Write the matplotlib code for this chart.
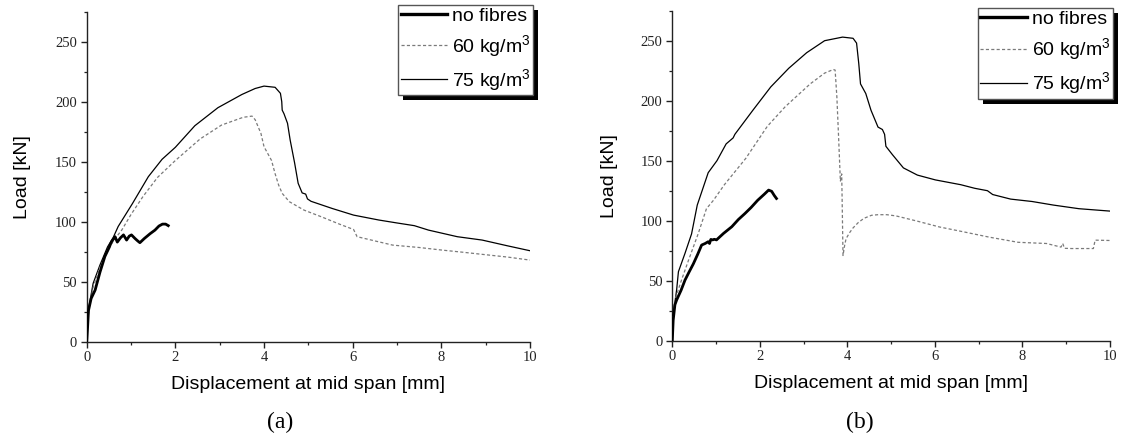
import matplotlib
matplotlib.use('Agg')
import matplotlib.pyplot as plt
from matplotlib.lines import Line2D
from matplotlib.patches import Rectangle
from matplotlib.ticker import MultipleLocator

plt.rcParams['mathtext.default'] = 'regular'

# (a) displacement [mm] / load [kN]
a_nf_x = [0, 0.02, 0.04, 0.1, 0.19, 0.3, 0.41, 0.5, 0.56, 0.64, 0.69, 0.76, 0.83, 0.9, 0.96, 1.01, 1.09, 1.15, 1.2, 1.3,
          1.43, 1.54, 1.63, 1.71, 1.78, 1.84]
a_nf_y = [0, 12, 26, 36, 43, 58, 71, 78, 83.3, 87.5, 83, 86.5, 89, 84.7, 88, 89, 86, 84, 82.5, 86,
          90, 93, 96.4, 98, 98, 96.7]

a_60_x = [0, 0.02, 0.05, 0.15, 0.3, 0.45, 0.6, 0.79, 1.0, 1.27, 1.6, 2.0, 2.56, 3.04, 3.53, 3.73, 3.8, 3.93, 4.0, 4.17,
          4.25, 4.33, 4.41, 4.57, 4.9, 5.3, 5.7, 6.02, 6.1, 6.5, 6.9, 7.5, 8.0, 8.5, 8.92, 9.5, 10.0]
a_60_y = [0, 15, 27, 46, 62, 74, 84, 93, 106, 121, 137, 151, 169, 180.5, 187, 188, 185, 173.6, 162.5, 151,
          140, 130.5, 123.6, 116.7, 109.7, 104, 98, 93.5, 87.5, 84, 80.5, 78.5, 76.4, 74.5, 72.8, 70.5, 68]

a_75_x = [0, 0.02, 0.05, 0.145, 0.3, 0.47, 0.6, 0.71, 1.03, 1.39, 1.7, 2.0, 2.44, 2.96, 3.5, 3.8, 4.0, 4.25, 4.37, 4.4,
          4.41, 4.45, 4.53, 4.59, 4.69, 4.77, 4.86, 4.94, 4.98, 5.06, 5.54, 6.02, 6.59, 6.99, 7.39, 7.71, 8.36,
          8.92, 9.48, 10.0]
a_75_y = [0, 15, 29, 48.6, 64, 79, 87, 96, 115, 137.5, 152, 162, 180, 195, 206, 211, 213, 212, 207, 200,
          193, 190, 182, 168, 149, 132, 124, 123, 119, 117, 111, 105.5, 101.4, 99, 96.7, 93, 87.5,
          84.7, 80, 75.8]

# (b)
b_nf_x = [0, 0.02, 0.06, 0.1, 0.2, 0.29, 0.38, 0.48, 0.58, 0.67, 0.75, 0.82, 0.85, 0.88, 0.92, 0.96, 1.01, 1.17, 1.36,
          1.51, 1.66, 1.8, 1.95, 2.1, 2.2, 2.27, 2.33, 2.38]
b_nf_y = [0, 17, 30, 34, 42, 50.5, 57, 64, 72, 79.7, 81, 82.5, 81, 84.4, 84, 84.5, 84, 89.4, 95,
          101, 106, 111, 117, 122, 125.5, 124.5, 121, 118.5]

b_60_x = [0, 0.02, 0.06, 0.21, 0.37, 0.59, 0.78, 0.94, 1.19, 1.68, 2.17, 2.58, 3.15, 3.48, 3.68, 3.72, 3.76, 3.8, 3.84,
          3.87, 3.88, 3.9, 3.94, 3.97, 4.05, 4.13, 4.25, 4.38, 4.55, 4.7, 4.9, 5.11, 5.6, 6.1, 6.67, 7.24,
          7.9, 8.55, 8.88, 8.92, 8.96, 9.12, 9.4, 9.62, 9.66, 10.0]
b_60_y = [0, 20, 34, 50.5, 67, 89, 110, 117, 130, 152, 178.6, 195, 214, 223, 226, 225.5, 203, 169, 133,
          139, 118, 71, 80, 85, 90, 94, 98.5, 102, 104.5, 105, 105, 104, 99.6, 94.8, 90.6, 86.3,
          82, 81, 78, 81, 77, 76.8, 76.8, 76.8, 83.8, 83.5]

b_75_x = [0, 0.02, 0.06, 0.1, 0.14, 0.29, 0.44, 0.57, 0.82, 1.02, 1.23, 1.39, 1.43, 1.84, 2.25, 2.66, 3.07, 3.48, 3.89,
          4.13, 4.21, 4.26, 4.3, 4.42, 4.54, 4.7, 4.8, 4.85, 4.88, 5.03, 5.28, 5.6, 6.01, 6.59, 6.91, 7.2,
          7.32, 7.73, 8.22, 8.71, 9.29, 10.0]
b_75_y = [0, 23, 32, 42.7, 57.5, 72.8, 89, 113, 140, 150, 164, 169, 172, 192, 211.5, 227, 240, 250, 253,
          252, 248, 231, 214, 206, 192, 178, 176, 172, 162, 155, 144, 138, 134, 130, 127, 125,
          121.8, 118, 116, 113, 110, 108]

labels = ['no fibres', '60 kg/m$^3$', '75 kg/m$^3$']
panels = [
    ('(a)', a_nf_x, a_nf_y, a_60_x, a_60_y, a_75_x, a_75_y),
    ('(b)', b_nf_x, b_nf_y, b_60_x, b_60_y, b_75_x, b_75_y),
]

fig = plt.figure(figsize=(11.21, 4.36), dpi=100)
axes_pos = [[86.7 / 1121, 94.3 / 436, 443.3 / 1121, 330 / 436],
            [672.3 / 1121, 95.3 / 436, 437.7 / 1121, 330 / 436]]
legend_anchor = [(533 / 1121, 1 - 4.7 / 436), (1112.7 / 1121, 1 - 8.3 / 436)]
caption_x = [280 / 1121, 860 / 1121]

sans = 'Liberation Sans'
serif = 'Liberation Serif'
legends = []

for i, (tag, nfx, nfy, x60, y60, x75, y75) in enumerate(panels):
    ax = fig.add_axes(axes_pos[i])
    ax.plot(x75, y75, color='black', lw=0.9, zorder=3)
    ax.plot(x60, y60, color='#7a7a7a', lw=0.9, linestyle=(0, (2.5, 1.8)), zorder=3)
    ax.plot(nfx, nfy, color='black', lw=2.0, zorder=4)

    ax.set_xlim(0, 10)
    ax.set_ylim(0, 275)
    ax.xaxis.set_major_locator(MultipleLocator(2))
    ax.xaxis.set_minor_locator(MultipleLocator(1))
    ax.yaxis.set_major_locator(MultipleLocator(50))
    ax.yaxis.set_minor_locator(MultipleLocator(25))
    for s in ['top', 'right']:
        ax.spines[s].set_visible(False)
    for s in ['left', 'bottom']:
        ax.spines[s].set_linewidth(1.0)
        ax.spines[s].set_color('#222222')
    ax.tick_params(which='major', direction='out', length=4, width=1.0, pad=3, colors='#222222')
    ax.tick_params(which='minor', direction='out', length=2, width=0.9, colors='#222222')
    for lab in ax.get_xticklabels() + ax.get_yticklabels():
        lab.set_fontfamily(serif)
        lab.set_fontsize(10.5)
        lab.set_color('#222222')

    ax.set_xlabel('Displacement at mid span [mm]', fontfamily=sans, fontsize=14)
    ax.set_ylabel('Load [kN]', fontfamily=sans, fontsize=14)
    ax.xaxis.set_label_coords(0.5, -0.105)
    ax.yaxis.set_label_coords(-0.125, 0.5)

    handles = [Line2D([], [], color='black', lw=2.4),
               Line2D([], [], color='#7a7a7a', lw=0.9, linestyle=(0, (2.5, 1.8))),
               Line2D([], [], color='black', lw=0.9)]
    leg = fig.legend(handles, labels, loc='upper right', bbox_to_anchor=legend_anchor[i],
                     prop={'family': sans, 'size': 14}, frameon=True, fancybox=False,
                     edgecolor='#555555', framealpha=1, borderpad=0.12, labelspacing=0.42,
                     handlelength=2.4, handletextpad=0.25, borderaxespad=0)
    leg.get_frame().set_linewidth(1.0)
    legends.append(leg)

    fig.text(caption_x[i], 1 - 422 / 436, tag, fontfamily=serif, fontsize=17, ha='center', va='center')

# black drop shadow behind each legend box
fig.canvas.draw()
for leg in legends:
    bb = leg.get_window_extent()
    fig.patches.append(Rectangle((bb.x0 + 5, bb.y0 - 5), bb.width, bb.height, transform=None,
                                 facecolor='black', edgecolor='none', zorder=4, figure=fig))

fig.savefig('out.png', dpi=100)
